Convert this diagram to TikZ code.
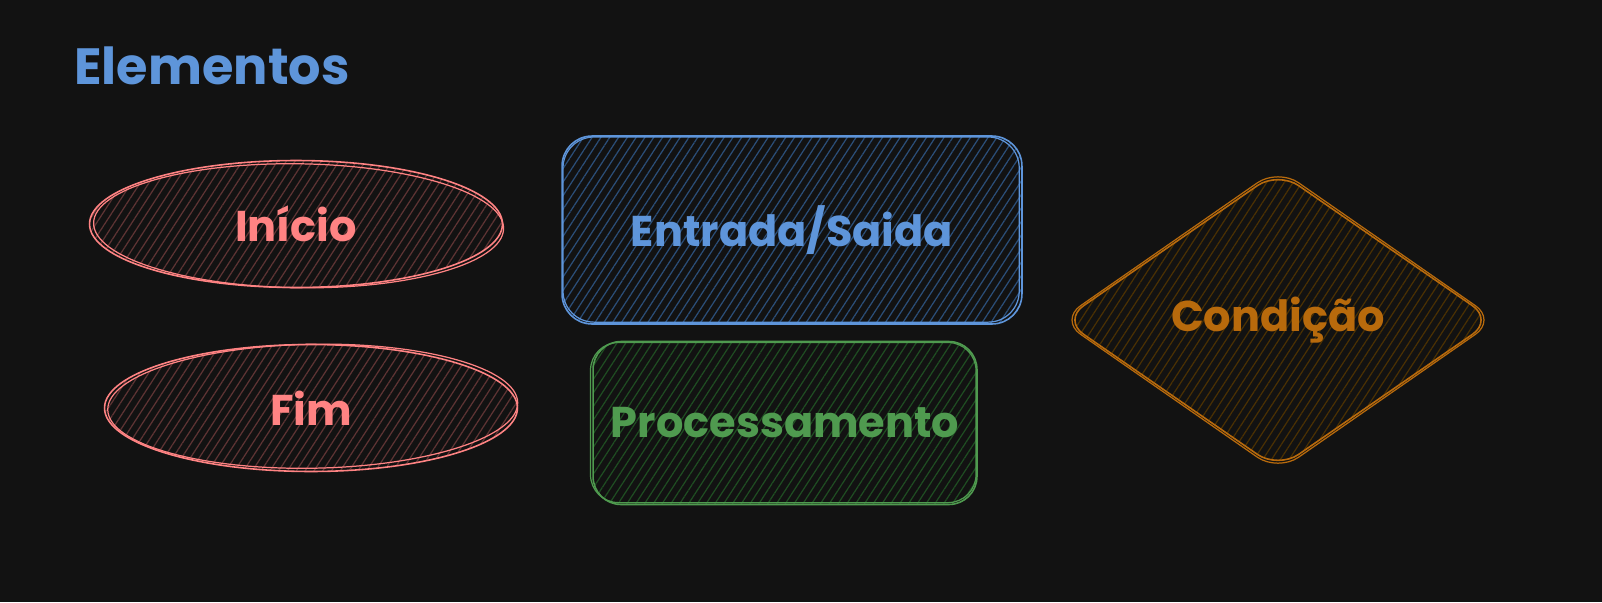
\documentclass[tikz,border=0pt]{standalone}
\usepackage{fontspec}
\setmainfont{Poppins}
\usetikzlibrary{shapes.geometric,patterns.meta}
\definecolor{bgc}{HTML}{121212}
\definecolor{redc}{HTML}{FF8383}
\definecolor{redh}{HTML}{5E3434}
\definecolor{bluec}{HTML}{5E95DA}
\definecolor{blueh}{HTML}{2B4E78}
\definecolor{greenc}{HTML}{4F9A4F}
\definecolor{greenh}{HTML}{1F4D22}
\definecolor{orangec}{HTML}{B86A0C}
\definecolor{orangeh}{HTML}{4A3003}
\tikzset{
  hatch/.style={pattern={Lines[angle=57,distance=4.2pt,line width=0.7pt]},pattern color=#1},
  lbl/.style={font=\fontsize{24.5}{28}\selectfont\bfseries},
  ovalbox/.style={ellipse,draw=redc,line width=0.9pt,hatch=redh,text=redc,lbl,minimum width=8.26cm,minimum height=2.54cm,inner sep=0pt},
  sketch/.style={line width=0.7pt},
}
\begin{document}
\begin{tikzpicture}[x=0.02cm,y=-0.02cm]
\useasboundingbox (0,0) rectangle (1602,602);
\fill[bgc] (0,0) rectangle (1602,602);
\node[text=bluec,font=\fontsize{29}{34}\selectfont\bfseries,anchor=base west,inner sep=0pt] (title) at (74,84) {Elementos};
% Inicio
\node[ovalbox] (ini) at (296,224) {Início};
\draw[redc,sketch,rotate around={-0.8:(ini.center)}] ([xshift=1.5pt,yshift=-1pt]ini.center) ellipse [x radius=205, y radius=62];
% Fim
\node[ovalbox] (fim) at (311,408) {Fim};
\draw[redc,sketch,rotate around={1:(fim.center)}] ([xshift=1pt,yshift=1pt]fim.center) ellipse [x radius=205, y radius=62];
% Entrada/Saida
\node[rectangle,rounded corners=0.6cm,draw=bluec,line width=0.9pt,hatch=blueh,text=bluec,lbl,minimum width=9.2cm,minimum height=3.76cm,inner sep=0pt] (es) at (792,230) {Entrada/Saida};
\draw[bluec,sketch,rounded corners=0.62cm] ([xshift=1pt,yshift=-1pt]es.north west) rectangle ([xshift=-2pt,yshift=1.5pt]es.south east);
% Processamento
\node[rectangle,rounded corners=0.56cm,draw=greenc,line width=0.9pt,hatch=greenh,text=greenc,lbl,minimum width=7.68cm,minimum height=3.26cm,inner sep=0pt] (proc) at (785,423) {Processamento};
\draw[greenc,sketch,rounded corners=0.56cm] ([xshift=-1pt,yshift=-1pt]proc.north west) rectangle ([xshift=-1pt,yshift=1.5pt]proc.south east);
% Condicao
\node[diamond,rounded corners=0.5cm,draw=orangec,line width=0.9pt,hatch=orangeh,text=orangec,lbl,minimum width=8.62cm,minimum height=5.96cm,inner sep=0pt] (cond) at (1278,320) {Condição};
\draw[orangec,sketch,rounded corners=0.5cm] ([yshift=1pt]cond.north) -- ([xshift=1pt]cond.east) -- ([yshift=-1pt]cond.south) -- ([xshift=-1pt]cond.west) -- cycle;
\end{tikzpicture}
\end{document}
